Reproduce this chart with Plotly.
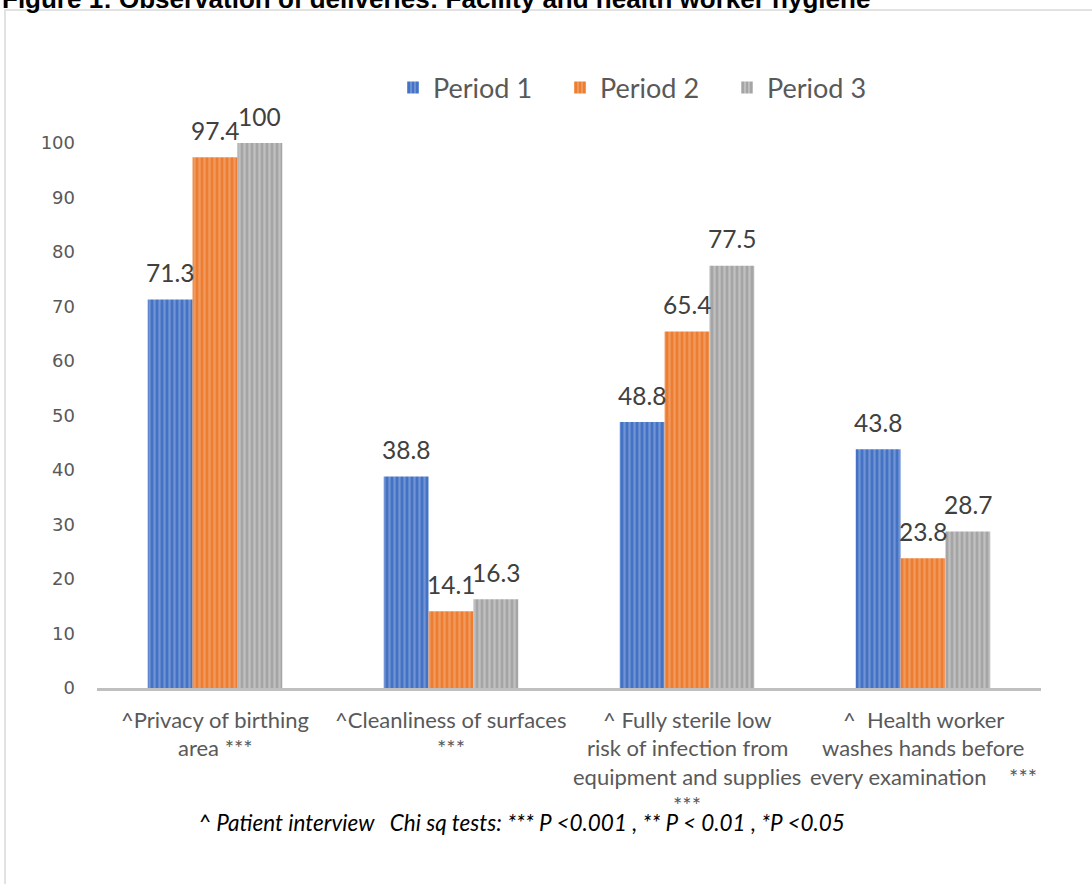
import plotly.graph_objects as go

categories = ["Privacy", "Cleanliness", "Sterile", "Handwash"]
category_lines = [
    ["^Privacy of birthing", "area ***"],
    ["^Cleanliness of surfaces", "***"],
    ["^ Fully sterile low", "risk of infection from", "equipment and supplies", "***"],
    ["^  Health worker", "washes hands before", "every examination    ***"],
]
series_names = ["Period 1", "Period 2", "Period 3"]
period1 = [71.3, 38.8, 48.8, 43.8]
period2 = [97.4, 14.1, 65.4, 23.8]
period3 = [100, 16.3, 77.5, 28.7]
y_ticks = [0, 10, 20, 30, 40, 50, 60, 70, 80, 90, 100]

title_text = "Figure 1: Observation of deliveries: Facility and health worker hygiene"
footnote = "^ Patient interview   Chi sq tests: *** P <0.001 , ** P < 0.01 , *P <0.05"

colors = [("#4472C4", "#9DB5E3"), ("#ED7D31", "#F6B88E"), ("#A5A5A5", "#DCDCDC")]

# layout geometry (pixels)
L, R, T, B = 97, 51, 88, 196
W, H = 1092, 884
plot_w = W - L - R
plot_h = H - T - B
px_per_unit = 5.45
bargap = 0.43
cat_w = plot_w / len(categories)
bar_w = cat_w * (1 - bargap) / len(series_names)

fig = go.Figure()
annotations = []
all_series = [period1, period2, period3]
for si, (name, vals, (bg, fg)) in enumerate(zip(series_names, all_series, colors)):
    fig.add_trace(go.Bar(
        name=name, x=categories, y=vals,
        marker=dict(color=bg, line=dict(width=0),
                    pattern=dict(shape="|", bgcolor=bg, fgcolor=fg, size=5, solidity=0.45, fillmode="overlay")),
    ))
    for cat, v in zip(categories, vals):
        annotations.append(dict(
            x=cat, xref="x", y=v, yref="y", yanchor="middle", xanchor="center",
            xshift=(si - 1) * bar_w, yshift=27, text=f"{v:g}", showarrow=False,
            font=dict(family="Lato", size=24.5, color="#404040"),
        ))

for cat, lines in zip(categories, category_lines):
    for j, line in enumerate(lines):
        annotations.append(dict(
            x=cat, xref="x", y=0, yref="paper", yanchor="middle",
            yshift=-(31 + 28.5 * j), text=line, showarrow=False,
            font=dict(family="Lato", size=22, color="#595959"),
        ))
annotations.append(dict(
    x=(521 - L) / plot_w, xref="paper", y=(688 - 822) / plot_h, yref="paper",
    text="<i>" + footnote + "</i>", showarrow=False, xanchor="center", yanchor="middle",
    font=dict(family="Lato", size=22.5, color="#000000"),
))
annotations.append(dict(
    x=(0 - L) / plot_w, xref="paper", y=(688 - 16) / plot_h, yref="paper",
    text="<b>" + title_text + "</b>", showarrow=False, xanchor="left", yanchor="bottom",
    font=dict(family="Liberation Sans", size=26, color="#000000"),
))

fig.update_layout(
    width=W, height=H,
    margin=dict(l=L, r=R, t=T, b=B),
    paper_bgcolor="white", plot_bgcolor="white",
    barmode="group", bargap=bargap, bargroupgap=0,
    showlegend=True,
    legend=dict(orientation="h", x=(406 - 13 - L) / plot_w, xanchor="left", y=1.0, yanchor="middle",
                font=dict(family="Lato", size=27, color="#595959"),
                entrywidth=122, itemwidth=30, bgcolor="rgba(0,0,0,0)"),
    xaxis=dict(showticklabels=False, showline=True, linecolor="#BFBFBF", linewidth=3,
               showgrid=False, ticks=""),
    yaxis=dict(range=[0, plot_h / px_per_unit], tickvals=y_ticks, showgrid=False, zeroline=False,
               showline=False, ticks="", ticklabelstandoff=21,
               tickfont=dict(family="DejaVu Sans", size=18, color="#595959")),
    annotations=annotations,
    shapes=[dict(type="rect", xref="paper", yref="paper",
                 x0=(5 - L) / plot_w, x1=(1100 - L) / plot_w,
                 y0=(688 - 900) / plot_h, y1=(688 - 10) / plot_h,
                 line=dict(color="#D9D9D9", width=1.5), fillcolor="rgba(0,0,0,0)", layer="below")],
)

fig.write_html("out.html")
